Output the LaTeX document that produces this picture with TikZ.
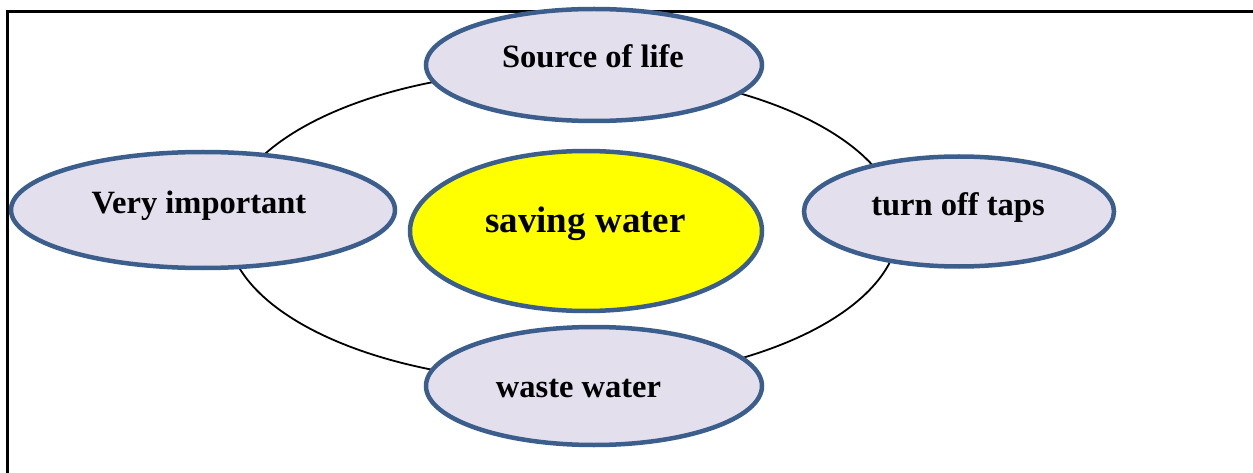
\documentclass[tikz,border=0pt]{standalone}
\usepackage{fontspec}
\setmainfont{Liberation Serif}
\usetikzlibrary{shapes.geometric}
\definecolor{bubblefill}{HTML}{E4DFEC}
\definecolor{bubbleline}{HTML}{3B5E8C}
\definecolor{centrefill}{HTML}{FFFF00}
\begin{document}
\begin{tikzpicture}[x=1pt,y=-1pt,
  bubble/.style={ellipse, draw=bubbleline, line width=4.5pt, fill=bubblefill, inner sep=0pt, outer sep=0pt},
  centrebubble/.style={bubble, fill=centrefill},
  ringshape/.style={ellipse, draw=black, line width=1.8pt, inner sep=0pt, outer sep=0pt, minimum width=672pt, minimum height=312pt},
  lbl/.style={anchor=base, inner sep=0pt, font=\bfseries\fontsize{32.5}{38}\selectfont},
  biglbl/.style={anchor=base, inner sep=0pt, font=\bfseries\fontsize{37}{44}\selectfont},
  frameline/.style={draw=black, line width=3pt}]
\useasboundingbox (0,0) rectangle (1253,473);
% frame
\coordinate (fbl) at (7,475);
\coordinate (ftl) at (7,12);
\coordinate (ftr) at (1255,12);
\draw[frameline] (fbl) -- (ftl) -- (ftr);
% ring behind the bubbles
\node[ringshape] (ring) at (563,226) {};
% bubbles
\node[bubble, minimum width=336pt, minimum height=112pt] (source) at (594,65) {};
\node[bubble, minimum width=384pt, minimum height=116pt] (important) at (203,210) {};
\node[bubble, minimum width=310pt, minimum height=110pt] (taps) at (959,211.5) {};
\node[centrebubble, minimum width=352pt, minimum height=160pt] (saving) at (586,231) {};
\node[bubble, minimum width=336pt, minimum height=118pt] (waste) at (594,386) {};
% labels
\node[lbl] (tsource) at (593,68) {Source of life};
\node[lbl] (timportant) at (199,214) {Very important};
\node[lbl] (ttaps) at (958,215) {turn off taps};
\node[biglbl] (tsaving) at (585.5,233) {saving water};
\node[lbl] (twaste) at (578.5,397) {waste water};
\end{tikzpicture}
\end{document}
